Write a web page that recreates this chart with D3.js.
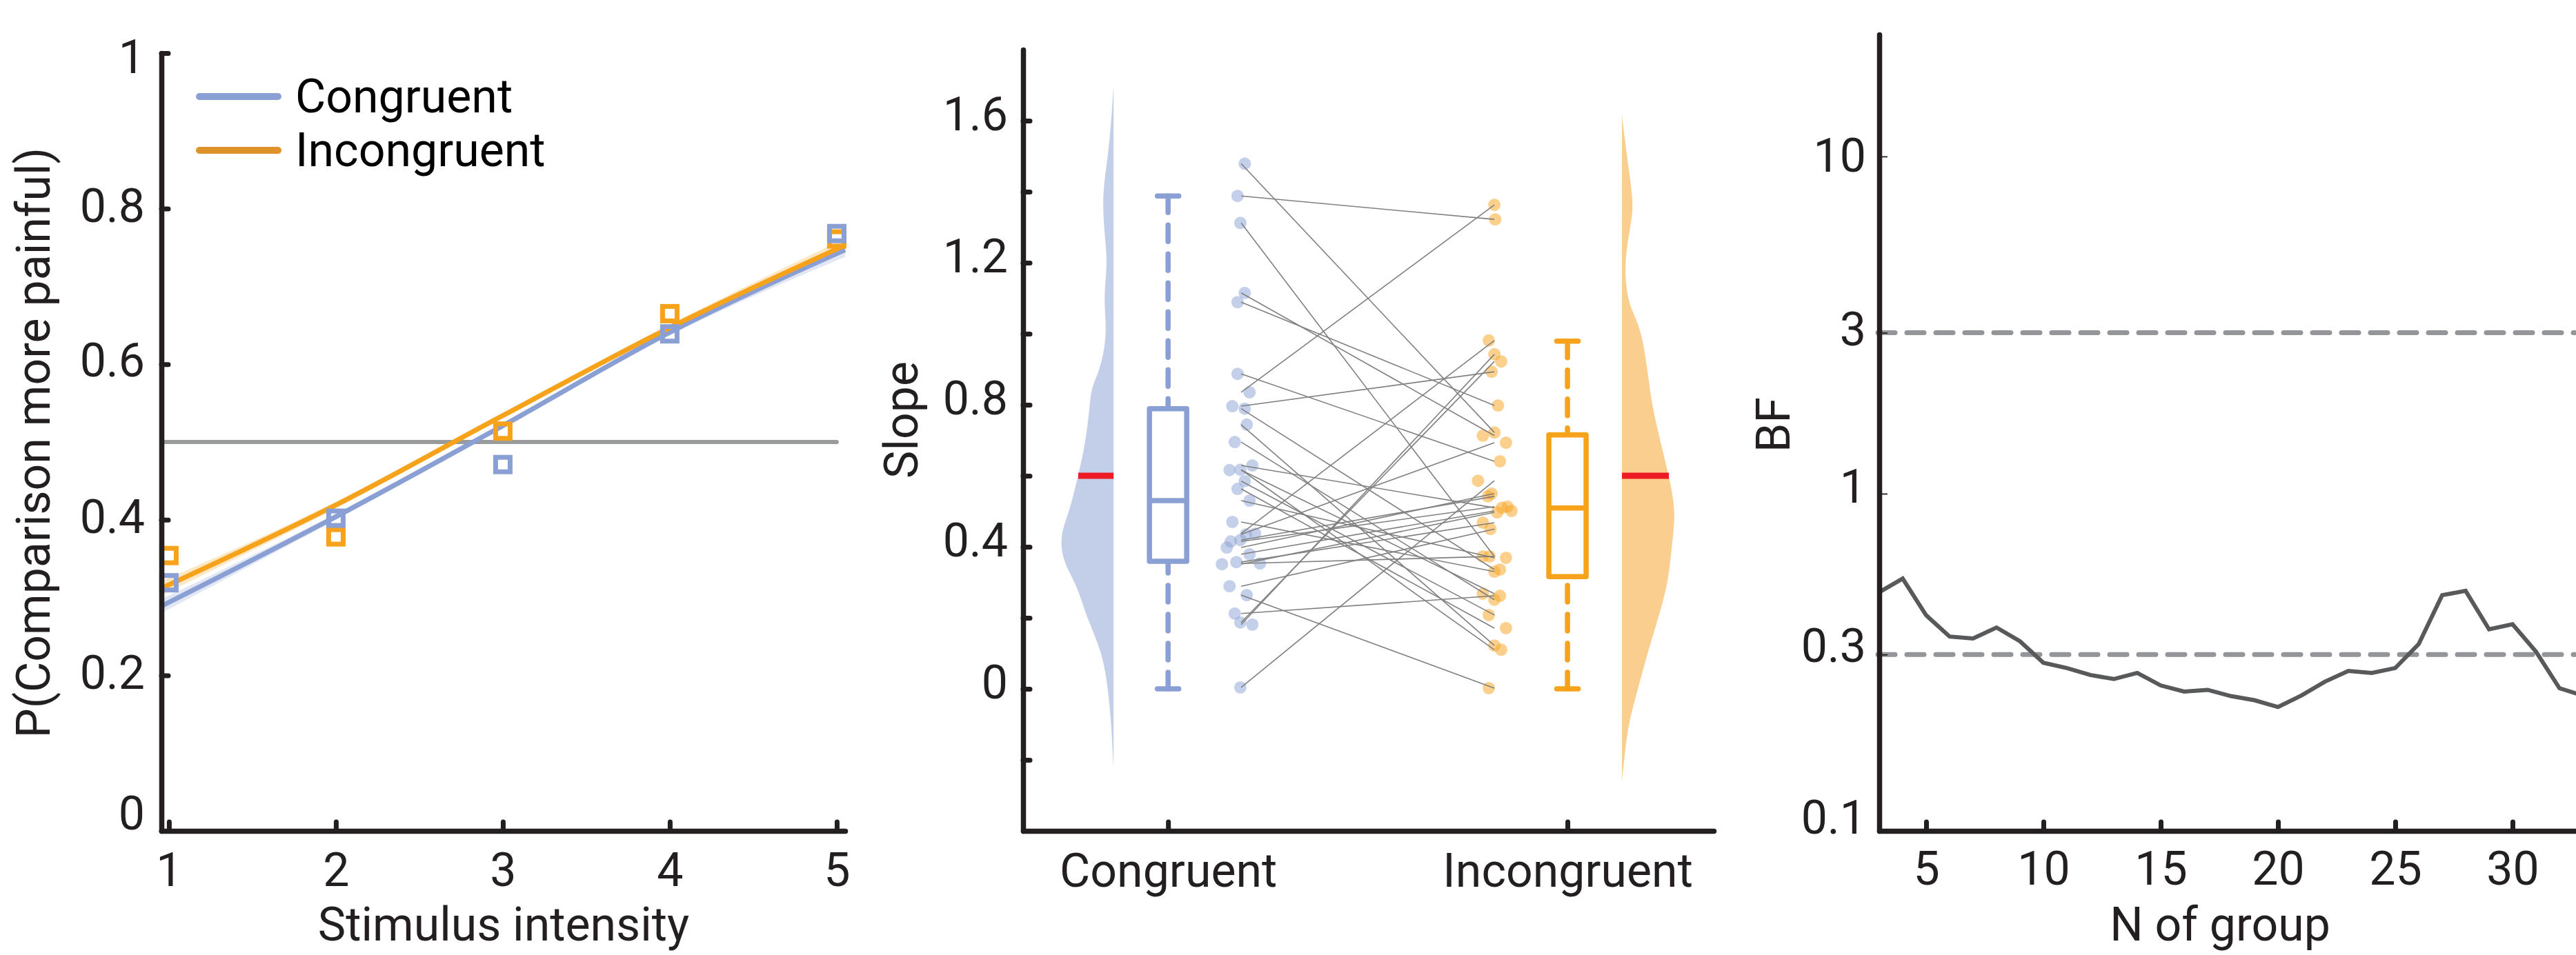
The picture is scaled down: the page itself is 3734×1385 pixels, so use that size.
<!DOCTYPE html>
<html>
<head>
<meta charset="utf-8">
<script src="https://cdn.jsdelivr.net/npm/d3@7"></script>
<style>
  body { margin: 0; background: #fff; overflow: hidden; }
  svg { display: block; font-family: Roboto, "Noto Sans", sans-serif; }
</style>
</head>
<body>
<div id="chart"></div>
<script>
// ---- Panel 1: psychometric curves ----
const intensity = [1, 2, 3, 4, 5];
const congruentObs = [0.319, 0.402, 0.471, 0.639, 0.768];
const incongruentObs = [0.354, 0.378, 0.514, 0.665, 0.761];
const fitX = [0.955, 2, 3, 4, 5.05];
const congruentFit = [0.289, 0.404, 0.521, 0.641, 0.747];
const incongruentFit = [0.312, 0.419, 0.534, 0.647, 0.753];
const fitCI = [0.009, 0.004, 0.003, 0.004, 0.009];
const chanceLevel = 0.5;
const probTicks = [0, 0.2, 0.4, 0.6, 0.8, 1];
const probTickLabels = ["0", "0.2", "0.4", "0.6", "0.8", "1"];
const conditions = ["Congruent", "Incongruent"];

// ---- Panel 2: slopes (paired by participant) ----
const slopeCongruent = [1.479, 1.388, 1.312, 1.115, 1.089, 0.887, 0.835, 0.796, 0.789, 0.744, 0.695,
  0.629, 0.617, 0.616, 0.437, 0.181, 0.187, 0.264, 0.212, 0.004, 0.585, 0.563, 0.530, 0.470,
  0.435, 0.419, 0.415, 0.398, 0.379, 0.357, 0.353, 0.351, 0.289];
const slopeIncongruent = [0.722, 1.322, 0.373, 0.713, 0.798, 0.641, 1.363, 0.893, 0.336, 0.122, 0.251,
  0.510, 0.110, 0.268, 0.981, 0.942, 0.922, 0.002, 0.262, 0.586, 0.208, 0.171, 0.369, 0.330,
  0.693, 0.542, 0.513, 0.550, 0.501, 0.468, 0.373, 0.497, 0.450];
// horizontal jitter of each dot, in category units
const jitterCongruent = [0.009, -0.009, -0.002, 0.009, -0.009, -0.009, 0.021, -0.022, 0.009, 0.014, -0.016,
  0.028, -0.002, -0.029, 0.035, 0.028, -0.002, 0.014, -0.016, -0.002, 0.009, -0.009, 0.021, -0.022,
  0.012, -0.002, -0.026, -0.036, 0.021, -0.012, 0.047, -0.048, -0.029];
const jitterIncongruent = [0, 0.002, -0.012, -0.029, 0.009, 0.014, 0, -0.007, 0.014, 0, 0,
  0.019, 0.017, -0.029, -0.014, 0, 0.017, -0.014, 0.014, -0.041, -0.014, 0.029, 0.029, 0,
  0.029, -0.016, 0.033, -0.007, 0.043, -0.029, -0.029, 0.007, -0.010];
// box stats: [lower whisker, q1, median, q3, upper whisker]
const boxCongruent = [0, 0.359, 0.53, 0.789, 1.388];
const boxIncongruent = [0, 0.316, 0.509, 0.715, 0.979];
// half-violin densities (normalised)
const densCongruentY = [-0.22, -0.2, -0.1, 0, 0.1, 0.2, 0.25, 0.3, 0.35, 0.4, 0.45, 0.5, 0.6, 0.7, 0.8,
  0.85, 0.9, 1.0, 1.1, 1.2, 1.3, 1.4, 1.5, 1.6, 1.7];
const densCongruent = [0, 0.01, 0.04, 0.10, 0.20, 0.48, 0.58, 0.70, 0.88, 0.96, 0.93, 0.80, 0.64, 0.50, 0.43,
  0.40, 0.24, 0.11, 0.19, 0.10, 0.18, 0.20, 0.10, 0.04, 0];
const densIncongruentY = [-0.26, -0.2, -0.1, 0, 0.1, 0.2, 0.3, 0.4, 0.5, 0.6, 0.7, 0.8, 0.9, 1.0, 1.05,
  1.1, 1.2, 1.3, 1.35, 1.4, 1.5, 1.6, 1.62];
const densIncongruent = [0, 0.04, 0.11, 0.29, 0.46, 0.66, 0.84, 0.90, 0.98, 0.85, 0.69, 0.54, 0.46, 0.36, 0.23,
  0.09, 0.04, 0.15, 0.20, 0.18, 0.09, 0.01, 0];
const densityMarker = [0.6, 0.6];
const slopeTicks = [-0.2, 0, 0.2, 0.4, 0.6, 0.8, 1.0, 1.2, 1.4, 1.6];
const slopeTickLabels = ["", "0", "", "0.4", "", "0.8", "", "1.2", "", "1.6"];

// ---- Panel 3: Bayes factor by group size ----
const groupN = d3.range(3, 34);
const bfValues = [0.510, 0.560, 0.436, 0.377, 0.372, 0.401, 0.365, 0.315, 0.304, 0.290, 0.282,
  0.294, 0.270, 0.259, 0.262, 0.251, 0.244, 0.233, 0.252, 0.277, 0.298, 0.294, 0.304, 0.358,
  0.500, 0.515, 0.396, 0.410, 0.340, 0.265, 0.252];
const bfThresholds = [3, 1 / 3];
const bfTicks = [0.1, 1 / 3, 1, 3, 10];
const bfTickLabels = ["0.1", "0.3", "1", "3", "10"];
const nTicks = [5, 10, 15, 20, 25, 30];

const width = 3734;
const height = 1385;
const ink = "#231f20";
const blue = "#8a9fd3";
const orange = "#f7a21b";
const fontSize = 68;

const svg = d3.select("#chart").append("svg")
  .attr("width", width).attr("height", height)
  .attr("viewBox", `0 0 ${width} ${height}`);
svg.append("rect").attr("width", width).attr("height", height).attr("fill", "#fff");

function styleAxis(g, tickWidth, tickCap) {
  g.attr("font-size", null).attr("font-family", null);
  g.select(".domain").attr("stroke", ink).attr("stroke-width", 7.5).attr("stroke-linecap", "round");
  g.selectAll(".tick line").attr("stroke", ink).attr("stroke-width", tickWidth)
    .attr("stroke-linecap", tickCap);
  g.selectAll(".tick text").attr("fill", ink).style("font-size", fontSize + "px");
}

function yTitle(text, x, y) {
  svg.append("text").attr("transform", `translate(${x},${y}) rotate(-90)`)
    .attr("text-anchor", "middle").attr("fill", ink).style("font-size", fontSize + "px").text(text);
}

// =================== Panel 1 ===================
const x1 = d3.scaleLinear().domain([0.955, 5.05]).range([234, 1225]);
const y1 = d3.scaleLinear().domain([0, 1]).range([1205, 77]);
const p1 = svg.append("g");

const fitRows = fitX.map((x, i) => ({ x, c: congruentFit[i], ic: incongruentFit[i], e: fitCI[i] }));
const band = (key) => d3.area().curve(d3.curveMonotoneX)
  .x(d => x1(d.x)).y0(d => y1(d[key] - d.e)).y1(d => y1(d[key] + d.e));
const fitLine = (key) => d3.line().curve(d3.curveMonotoneX).x(d => x1(d.x)).y(d => y1(d[key]));

p1.append("line")
  .attr("x1", x1(x1.domain()[0])).attr("x2", x1(5))
  .attr("y1", y1(chanceLevel)).attr("y2", y1(chanceLevel))
  .attr("stroke", "#999a9c").attr("stroke-width", 6).attr("stroke-linecap", "round");

p1.append("path").datum(fitRows).attr("d", band("c")).attr("fill", blue).attr("opacity", 0.25);
p1.append("path").datum(fitRows).attr("d", band("ic")).attr("fill", orange).attr("opacity", 0.25);
p1.append("path").datum(fitRows).attr("d", fitLine("c"))
  .attr("fill", "none").attr("stroke", blue).attr("stroke-width", 7);
p1.append("path").datum(fitRows).attr("d", fitLine("ic"))
  .attr("fill", "none").attr("stroke", orange).attr("stroke-width", 7);

const sq = 21;
[[incongruentObs, orange], [congruentObs, blue]].forEach(([obs, col]) => {
  p1.selectAll(null).data(obs).enter().append("rect")
    .attr("x", (d, i) => x1(intensity[i]) - sq / 2)
    .attr("y", d => y1(d) - sq / 2)
    .attr("width", sq).attr("height", sq)
    .attr("fill", "none").attr("stroke", col).attr("stroke-width", 7);
});

const p1Dy = { 0: -3, 0.2: 19, 0.4: 19, 0.6: 17, 0.8: 19, 1: 28 };
p1.append("g").attr("transform", `translate(${x1.range()[0]},0)`)
  .call(d3.axisLeft(y1).tickValues(probTicks).tickSizeInner(-10).tickSizeOuter(0).tickPadding(24)
    .tickFormat((d, i) => probTickLabels[i]))
  .call(g => styleAxis(g, 7, "round"))
  .call(g => g.selectAll(".tick text").attr("dy", d => p1Dy[d]));
p1.append("g").attr("transform", `translate(0,${y1.range()[0]})`)
  .call(d3.axisBottom(x1).tickValues(intensity).tickSizeInner(-13).tickSizeOuter(0)
    .tickFormat(d3.format("d")))
  .call(g => styleAxis(g, 7, "round"))
  .call(g => g.selectAll(".tick text").attr("y", 0).attr("dy", 80));

yTitle("P(Comparison more painful)", 72, 642);
p1.append("text").attr("x", 730).attr("y", 1364).attr("text-anchor", "middle")
  .attr("fill", ink).style("font-size", fontSize + "px").text("Stimulus intensity");

// legend
const legend = p1.append("g");
conditions.forEach((name, i) => {
  const ly = 140 + i * 78;
  legend.append("line").attr("x1", 289).attr("x2", 403).attr("y1", ly).attr("y2", ly)
    .attr("stroke", i === 0 ? blue : "#e0922a").attr("stroke-width", 10).attr("stroke-linecap", "round");
  legend.append("text").attr("x", 428).attr("y", ly + 23).attr("fill", "#000")
    .style("font-size", fontSize + "px").text(name);
});

// =================== Panel 2 ===================
const x2 = d3.scaleLinear().domain([0.637, 2.366]).range([1483, 2484]);
const y2 = d3.scaleLinear().domain([-0.4, 1.8]).range([1205, 72]);
const p2 = svg.append("g");
const densW = d3.scaleLinear().domain([0, 1]).range([0, 80]);
const violinGap = 79;

function halfViolin(ys, dens, cat, side, col, marker) {
  const edge = x2(cat) + side * violinGap;
  const rows = ys.map((v, i) => ({ v, d: dens[i] }));
  p2.append("path").datum(rows)
    .attr("d", d3.area().curve(d3.curveBasis)
      .y(d => y2(d.v)).x0(edge).x1(d => edge + side * densW(d.d)))
    .attr("fill", col);
  // density at the marker value
  const dAt = d3.scaleLinear().domain(ys).range(dens);
  p2.append("line").attr("x1", edge).attr("x2", edge + side * densW(dAt(marker)))
    .attr("y1", y2(marker)).attr("y2", y2(marker))
    .attr("stroke", "#ed1c24").attr("stroke-width", 9);
}
halfViolin(densCongruentY, densCongruent, 1, -1, "#c3cfe9", densityMarker[0]);
halfViolin(densIncongruentY, densIncongruent, 2, 1, "#f9ce8f", densityMarker[1]);

function boxPlot(stats, cat, col) {
  const cx = x2(cat), bw = 54, cw = 31;
  const [lo, q1, med, q3, hi] = stats;
  const g = p2.append("g").attr("stroke", col).attr("stroke-width", 7.5).attr("fill", "none");
  g.append("line").attr("x1", cx).attr("x2", cx).attr("y1", y2(hi)).attr("y2", y2(q3))
    .attr("stroke-dasharray", "24 18").attr("stroke-linecap", "round");
  g.append("line").attr("x1", cx).attr("x2", cx).attr("y1", y2(lo)).attr("y2", y2(q1))
    .attr("stroke-dasharray", "24 18").attr("stroke-linecap", "round");
  [lo, hi].forEach(v => g.append("line").attr("x1", cx - cw / 2).attr("x2", cx + cw / 2)
    .attr("y1", y2(v)).attr("y2", y2(v)).attr("stroke-linecap", "round"));
  g.append("rect").attr("x", cx - bw / 2).attr("y", y2(q3)).attr("width", bw)
    .attr("height", y2(q1) - y2(q3)).attr("fill", "#fff").attr("stroke-linejoin", "round");
  g.append("line").attr("x1", cx - bw / 2).attr("x2", cx + bw / 2).attr("y1", y2(med)).attr("y2", y2(med));
}
boxPlot(boxCongruent, 1, blue);
boxPlot(boxIncongruent, 2, orange);

const baseC = 1.183, baseI = 1.817;
p2.selectAll(".dotC").data(slopeCongruent).enter().append("circle")
  .attr("cx", (d, i) => x2(baseC + jitterCongruent[i])).attr("cy", d => y2(d)).attr("r", 9)
  .attr("fill", blue).attr("fill-opacity", 0.5);
p2.selectAll(".dotI").data(slopeIncongruent).enter().append("circle")
  .attr("cx", (d, i) => x2(baseI + jitterIncongruent[i])).attr("cy", d => y2(d)).attr("r", 9)
  .attr("fill", orange).attr("fill-opacity", 0.5);
p2.selectAll(".pair").data(slopeCongruent).enter().append("line")
  .attr("x1", x2(baseC)).attr("x2", x2(baseI))
  .attr("y1", d => y2(d)).attr("y2", (d, i) => y2(slopeIncongruent[i]))
  .attr("stroke", "#808080").attr("stroke-width", 1.6);

p2.append("g").attr("transform", `translate(${x2.range()[0]},0)`)
  .call(d3.axisLeft(y2).tickValues(slopeTicks).tickSizeInner(-10).tickSizeOuter(0).tickPadding(22)
    .tickFormat((d, i) => slopeTickLabels[i]))
  .call(g => styleAxis(g, 7, "round"))
  .call(g => g.selectAll(".tick text").attr("dy", 13));
p2.append("g").attr("transform", `translate(0,${y2.range()[0]})`)
  .call(d3.axisBottom(x2).tickValues([1, 2]).tickSizeInner(-13).tickSizeOuter(0)
    .tickFormat((d, i) => conditions[i]))
  .call(g => styleAxis(g, 7, "round"))
  .call(g => g.selectAll(".tick text").attr("y", 0).attr("dy", 81));
yTitle("Slope", 1330, 609);

// =================== Panel 3 ===================
const x3 = d3.scaleLinear().domain([3, 33]).range([2724, 3744]);
const y3 = d3.scaleLog().domain([0.1, 23]).range([1205, 50]);
const p3 = svg.append("g");

bfThresholds.forEach(t => {
  p3.append("line").attr("x1", x3(3) - 2).attr("x2", x3(33))
    .attr("y1", y3(t)).attr("y2", y3(t))
    .attr("stroke", "#939598").attr("stroke-width", 7)
    .attr("stroke-dasharray", "25 17").attr("stroke-linecap", "round");
});
p3.append("path").datum(groupN.map((n, i) => [n, bfValues[i]]))
  .attr("d", d3.line().x(d => x3(d[0])).y(d => y3(d[1])))
  .attr("fill", "none").attr("stroke", "#58595b").attr("stroke-width", 6);

const p3Dy = [3, 10, 13, 18, 22];
p3.append("g").attr("transform", `translate(${x3.range()[0]},0)`)
  .call(d3.axisLeft(y3).tickValues(bfTicks).tickSizeInner(-12).tickSizeOuter(0).tickPadding(19)
    .tickFormat((d, i) => bfTickLabels[i]))
  .call(g => styleAxis(g, 1.8, "butt"))
  .call(g => g.selectAll(".tick text").attr("dy", (d, i) => p3Dy[i]));
p3.append("g").attr("transform", `translate(0,${y3.range()[0]})`)
  .call(d3.axisBottom(x3).tickValues(nTicks).tickSizeInner(-13).tickSizeOuter(0)
    .tickFormat(d3.format("d")))
  .call(g => styleAxis(g, 7, "round"))
  .call(g => g.selectAll(".tick text").attr("y", 0).attr("dy", 78));
yTitle("BF", 2594, 616);
p3.append("text").attr("x", 3218).attr("y", 1364).attr("text-anchor", "middle")
  .attr("fill", ink).style("font-size", fontSize + "px").text("N of group");
</script>
</body>
</html>
